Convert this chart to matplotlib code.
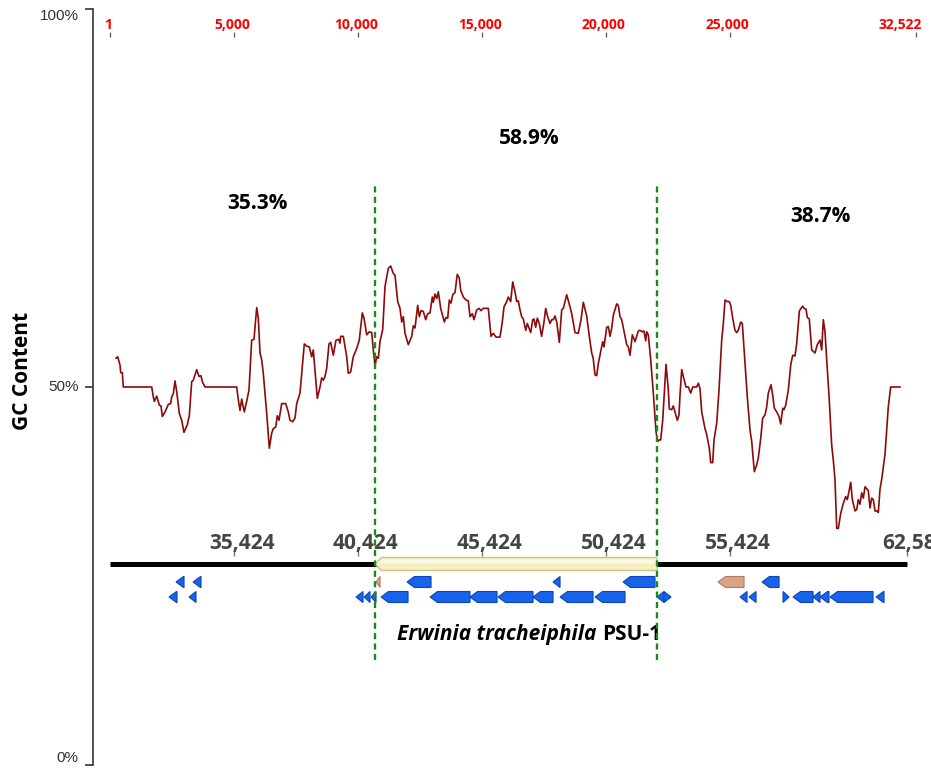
import numpy as np
import matplotlib
matplotlib.use("Agg")
import matplotlib.pyplot as plt
from matplotlib.patches import Polygon
from matplotlib import transforms

# sliding-window GC content along the 32.5 kb region (window start, GC %)
gc_pos = [242, 311, 404, 432, 496, 537, 1683, 1747, 1788, 1885, 1990, 2058, 2111, 2220, 2353,
          2450, 2490, 2554, 2623, 2692, 2797, 2893, 2986, 3119, 3200, 3297, 3362, 3499, 3592,
          3672, 3725, 3834, 5113, 5178, 5246, 5315, 5420, 5516, 5609, 5718, 5811, 5920, 5985,
          6053, 6122, 6186, 6324, 6429, 6525, 6590, 6687, 6751, 6820, 6929, 7090, 7195, 7264,
          7373, 7466, 7534, 7667, 7841, 7938, 8043, 8140, 8204, 8341, 8366, 8475, 8543, 8608,
          8676, 8745, 8838, 8906, 9011, 9120, 9229, 9282, 9310, 9415, 9552, 9617, 9713, 9818,
          9956, 10060, 10182, 10250, 10359, 10464, 10561, 10626, 10694, 10763, 10827, 10896,
          11005, 11098, 11231, 11328, 11433, 11501, 11610, 11703, 11772, 11836, 11905, 12038,
          12175, 12240, 12308, 12417, 12482, 12550, 12643, 12740, 12821, 12914, 13006, 13047,
          13115, 13184, 13249, 13345, 13491, 13559, 13628, 13693, 13761, 13830, 13922, 14015,
          14096, 14153, 14258, 14366, 14459, 14528, 14620, 14689, 14798, 14891, 14972, 15064,
          15266, 15375, 15468, 15577, 15738, 15831, 15900, 16009, 16073, 16170, 16251, 16344,
          16413, 16477, 16546, 16614, 16679, 16776, 16840, 16909, 16977, 17058, 17110, 17179,
          17244, 17325, 17417, 17514, 17582, 17663, 17756, 17825, 17889, 17958, 18027, 18132,
          18228, 18293, 18430, 18563, 18632, 18765, 18898, 19007, 19100, 19237, 19342, 19439,
          19499, 19572, 19641, 19705, 19843, 19883, 19935, 20044, 20109, 20178, 20246, 20311,
          20448, 20513, 20581, 20650, 20783, 20852, 20916, 20985, 21078, 21186, 21255, 21320,
          21388, 21481, 21550, 21618, 21659, 21723, 21820, 21925, 22034, 22102, 22167, 22223,
          22304, 22437, 22530, 22570, 22667, 22732, 22800, 22893, 22962, 23002, 23071, 23135,
          23244, 23337, 23434, 23515, 23676, 23741, 23809, 23878, 24011, 24080, 24185, 24241,
          24322, 24374, 24483, 24576, 24685, 24750, 24819, 24911, 24992, 25049, 25129, 25222,
          25291, 25355, 25452, 25517, 25625, 25718, 25827, 25896, 26001, 26097, 26162, 26259,
          26340, 26433, 26501, 26566, 26675, 26743, 26808, 26905, 26997, 27066, 27147, 27199,
          27268, 27373, 27470, 27550, 27643, 27712, 27817, 27845, 27954, 28006, 28087, 28140,
          28220, 28317, 28382, 28450, 28543, 28652, 28721, 28785, 28854, 28922, 29015, 29124,
          29189, 29257, 29326, 29391, 29488, 29593, 29689, 29754, 29823, 29891, 29956, 30065,
          30134, 30198, 30266, 30335, 30400, 30468, 30601, 30670, 30738, 30803, 30872, 30965,
          31005, 31073, 31142, 31275, 31408, 31505, 31880]
gc_val = [53.8, 54.0, 52.9, 51.9, 51.9, 50.0, 50.0, 48.7, 48.1, 48.8, 47.6, 47.5, 46.1, 46.7, 47.7,
          47.8, 48.7, 49.1, 50.8, 49.4, 46.5, 45.6, 44.0, 45.0, 46.2, 50.7, 50.9, 52.3, 51.4,
          51.5, 50.7, 50.0, 50.0, 48.3, 46.9, 48.4, 46.7, 48.1, 49.6, 56.2, 56.3, 60.5, 59.1,
          54.5, 53.6, 51.8, 46.5, 41.9, 43.9, 44.5, 44.7, 46.2, 45.6, 47.8, 47.8, 46.7, 45.6,
          45.4, 45.9, 47.8, 49.2, 55.7, 55.4, 55.3, 54.0, 54.9, 49.4, 48.5, 50.0, 51.2, 50.9,
          51.4, 52.5, 55.7, 55.9, 54.2, 56.2, 56.3, 55.8, 56.7, 56.7, 54.0, 51.8, 52.0, 54.0,
          55.1, 56.2, 59.8, 59.1, 56.9, 57.3, 57.2, 54.9, 52.8, 54.0, 53.8, 56.0,
          57.6, 63.3, 65.7, 66.0, 65.0, 64.8, 61.3, 60.4, 58.6, 59.3, 57.1, 55.6,
          56.7, 58.1, 57.8, 60.8, 59.3, 60.1, 60.0, 58.9, 59.7, 59.8, 61.9, 61.2,
          62.3, 61.7, 62.6, 60.4, 58.6, 59.2, 59.1, 61.5, 61.1, 62.2, 62.5, 64.9,
          64.4, 62.8, 61.9, 61.5, 61.4, 59.3, 59.7, 58.9, 60.2, 60.4, 60.1, 60.4,
          60.4, 56.7, 57.1, 56.6, 56.6, 58.6, 60.6, 61.3, 61.9, 61.3, 63.9, 62.6,
          61.3, 61.4, 60.2, 59.3, 59.0, 57.5, 58.4, 57.8, 57.2, 58.9, 59.0, 57.9,
          59.1, 58.4, 56.7, 58.6, 60.4, 59.3, 58.4, 58.9, 58.9, 59.4, 58.6, 55.9,
          60.2, 60.4, 62.2, 60.6, 59.7, 57.2, 57.1, 58.9, 61.2, 59.4, 56.7, 54.5,
          53.8, 51.6, 51.5, 53.1, 55.4, 56.0, 55.3, 57.9, 58.0, 56.7, 57.8, 59.5,
          61.0, 60.8, 59.3, 58.9, 56.7, 55.6, 55.3, 54.2, 56.9, 56.0, 56.7, 57.4,
          57.5, 57.3, 57.4, 56.1, 57.3, 56.9, 53.6, 49.2, 44.1, 42.8, 43.0, 43.0,
          45.6, 53.0, 49.7, 47.1, 47.0, 47.5, 46.7, 45.6, 46.3, 48.9, 52.3, 51.4,
          50.0, 50.0, 49.2, 50.0, 50.0, 50.5, 49.8, 46.7, 44.5, 43.7, 41.9, 40.0,
          40.0, 43.0, 45.2, 49.6, 56.2, 58.4, 61.5, 61.3, 61.3, 60.8, 59.1, 57.5,
          57.2, 57.5, 58.6, 58.4, 53.1, 48.7, 44.3, 42.8, 38.8, 39.7, 40.6, 43.2,
          45.9, 46.3, 47.4, 49.2, 50.3, 48.9, 47.2, 46.7, 46.1, 45.1, 47.2, 47.0,
          47.6, 49.6, 52.9, 54.2, 54.1, 55.8, 60.0, 60.2, 60.7, 60.4, 60.3, 59.2,
          59.0, 54.9, 54.7, 54.5, 55.6, 56.2, 54.9, 58.9, 57.3, 53.6, 48.9, 42.3,
          40.3, 37.7, 31.3, 31.3, 33.3, 34.6, 35.5, 35.1, 36.2, 37.4, 35.1, 33.6,
          33.8, 35.1, 34.5, 36.0, 35.3, 36.8, 36.3, 34.0, 35.3, 35.1, 33.6, 33.6,
          33.4, 36.5, 37.8, 41.1, 47.4, 50.0, 50.0]

scale_ticks = [1, 5000, 10000, 15000, 20000, 25000, 32522]
scale_labels = ["1", "5,000", "10,000", "15,000", "20,000", "25,000", "32,522"]

# genome coordinates of the region in the Erwinia tracheiphila PSU-1 assembly
genome_offset = 30424
genome_start, genome_end = 30425, 62588
genome_ticks = [35424, 40424, 45424, 50424, 55424, 62588]
genome_labels = ["35,424", "40,424", "45,424", "50,424", "55,424", "62,588"]

island = (41118, 52498)
segment_gc = ["35.3%", "58.9%", "38.7%"]
segment_label_pos = [(5930, 74.3), (16910, 82.9), (28650, 72.5)]

# annotated genes: start, end, strand, track row, kind
gene_start = [33088, 33774, 41159, 42410, 48302, 51127, 54961, 56736,
              32806, 33613, 40352, 40675, 40958, 41362, 43339, 44953, 46083, 47495,
              48585, 49997, 52499, 52781, 55849, 56212, 57584, 57987, 58795, 59077,
              59481, 61337]
gene_end = [33411, 34097, 41321, 43379, 48585, 52418, 56010, 57423,
            33129, 33895, 40635, 40917, 41159, 42451, 44953, 46042, 47495, 48302,
            49916, 51208, 52781, 53064, 56131, 56494, 57826, 58795, 59077, 59440,
            61216, 61660]
gene_strand = [-1, -1, -1, -1, -1, -1, -1, -1,
               -1, -1, -1, -1, -1, -1, -1, -1, -1, -1,
               -1, -1, -1, 1, -1, -1, 1, -1, -1, -1,
               -1, -1]
gene_row = [1, 1, 1, 1, 1, 1, 1, 1,
            2, 2, 2, 2, 2, 2, 2, 2, 2, 2,
            2, 2, 2, 2, 2, 2, 2, 2, 2, 2,
            2, 2]
gene_kind = ["cds", "cds", "other", "cds", "cds", "cds", "other", "cds",
             "cds", "cds", "cds", "cds", "cds", "cds", "cds", "cds", "cds", "cds",
             "cds", "cds", "cds", "cds", "cds", "cds", "cds", "cds", "cds", "cds",
             "cds", "cds"]

W, H = 931, 774
fig = plt.figure(figsize=(W / 100, H / 100), dpi=100)


def px_rect(left, top, right, bottom):
    return [left / W, 1 - bottom / H, (right - left) / W, (bottom - top) / H]


def offset(dx, dy):
    return transforms.ScaledTranslation(dx / 100, dy / 100, fig.dpi_scale_trans)


x_lo, x_hi = -686, 33131
bold = dict(family=["Open Sans", "DejaVu Sans"], fontweight="bold")

# --- gene track --------------------------------------------------------------
track = fig.add_axes(px_rect(93, 551, 931, 651))
track.set_xlim(x_lo + genome_offset, x_hi + genome_offset)
track.set_ylim(100, 0)
for s in track.spines.values():
    s.set_visible(False)
track.set_yticks([])
track.xaxis.tick_top()
track.set_xticks(genome_ticks)
track.set_xticklabels([])
track.tick_params(axis="x", direction="in", length=3.6, width=1, color="#777")
track.patch.set_alpha(0)

tl = transforms.blended_transform_factory(track.transData, track.transAxes)
for g, lab in zip(genome_ticks, genome_labels):
    track.text(g, 1, lab, transform=tl + offset(8, 2), ha="center", va="baseline",
               fontsize=15, color="#454545", clip_on=False, **bold)

track.plot([genome_start, genome_end], [13, 13], color="black", lw=3.6,
           solid_capstyle="butt", zorder=2)


def gene_shape(start, end, strand, y, h, head):
    head = min(head, end - start)
    if strand < 0:
        base = start + head
        return [(start, y), (base, y - h / 2), (end, y - h / 2), (end, y + h / 2), (base, y + h / 2)]
    base = end - head
    return [(start, y - h / 2), (base, y - h / 2), (end, y), (base, y + h / 2), (start, y + h / 2)]


# genomic island drawn as one long arrow on the backbone
track.add_patch(Polygon(gene_shape(island[0], island[1], -1, 13, 13, 260),
                        closed=True, facecolor="#f4f0c0", edgecolor="#c9c48c", lw=1, zorder=3))
track.add_patch(Polygon(gene_shape(island[0] + 120, island[1] - 40, -1, 10.5, 4, 200),
                        closed=True, facecolor="#fbf9e4", edgecolor="none", zorder=3))

row_y = {1: 31, 2: 46}
kind_colors = {"cds": ("#1763ec", "#0d46b4"), "other": ("#d9a486", "#b07a5c")}
for s, e, st, r, k in zip(gene_start, gene_end, gene_strand, gene_row, gene_kind):
    fc, ec = kind_colors[k]
    track.add_patch(Polygon(gene_shape(s, e, st, row_y[r], 11, 300), closed=True,
                            facecolor=fc, edgecolor=ec, lw=0.8, zorder=3))

# species name: italic binomial followed by the strain, on one baseline
sp = track.text(42007, 89, "Erwinia tracheiphila", ha="left", va="baseline", fontsize=15,
                style="italic", color="black", **bold)
track.annotate("PSU-1", xy=(1, 89), xycoords=(sp, "data"), xytext=(6, 0),
               textcoords="offset pixels", ha="left", va="baseline", fontsize=15,
               color="black", **bold)

# --- position scale along the top -------------------------------------------
scale = fig.add_axes(px_rect(93, 32, 931, 42))
scale.set_xlim(x_lo, x_hi)
for s in scale.spines.values():
    s.set_visible(False)
scale.set_yticks([])
scale.xaxis.tick_top()
scale.set_xticks(scale_ticks)
scale.set_xticklabels([])
scale.tick_params(axis="x", direction="in", length=3.6, width=1, color="#666")
scale.patch.set_alpha(0)
st = transforms.blended_transform_factory(scale.transData, scale.transAxes)
for i, (t, lab) in enumerate(zip(scale_ticks, scale_labels)):
    if i == len(scale_ticks) - 1:
        scale.text(t, 1, lab, transform=st + offset(6, 3), ha="right", va="baseline",
                   fontsize=10, color="#ff0000", clip_on=False, **bold)
    else:
        scale.text(t, 1, lab, transform=st + offset(-2, 3), ha="center", va="baseline",
                   fontsize=10, color="#ff0000", clip_on=False, **bold)

# --- GC content plot ---------------------------------------------------------
ax = fig.add_axes(px_rect(93, 9, 931, 765))
ax.patch.set_visible(False)
ax.set_xlim(x_lo, x_hi)
ax.set_ylim(0, 100)
for side in ["top", "right", "bottom"]:
    ax.spines[side].set_visible(False)
ax.spines["left"].set_color("#333333")
ax.spines["left"].set_linewidth(1.2)
ax.set_xticks([])
ax.set_yticks([0, 50, 100])
ax.set_yticklabels(["0%", "50%", "100%"], family=["Liberation Sans", "DejaVu Sans"],
                   fontsize=11, color="#333333")
ax.tick_params(axis="y", length=5.5, width=1.2, color="#333333", pad=5)
for lab, va in zip(ax.get_yticklabels(), ["bottom", "center", "top"]):
    lab.set_verticalalignment(va)

ax.plot(gc_pos, gc_val, color="#8b0a0a", lw=1.2, zorder=3)

for x in island:
    ax.vlines(x - genome_offset, 13.9, 77.0, colors="#1a8a1a", linestyles=(0, (2.6, 1.8)),
              lw=1.7, zorder=5)

for lab, (x, y) in zip(segment_gc, segment_label_pos):
    ax.text(x, y, lab, ha="center", va="center", fontsize=15, color="black", **bold)

fig.text(22.5 / W, 1 - 371 / H, "GC Content", rotation=90, ha="center", va="center",
         fontsize=15, color="black", **bold)

fig.savefig("out.png", dpi=100)
